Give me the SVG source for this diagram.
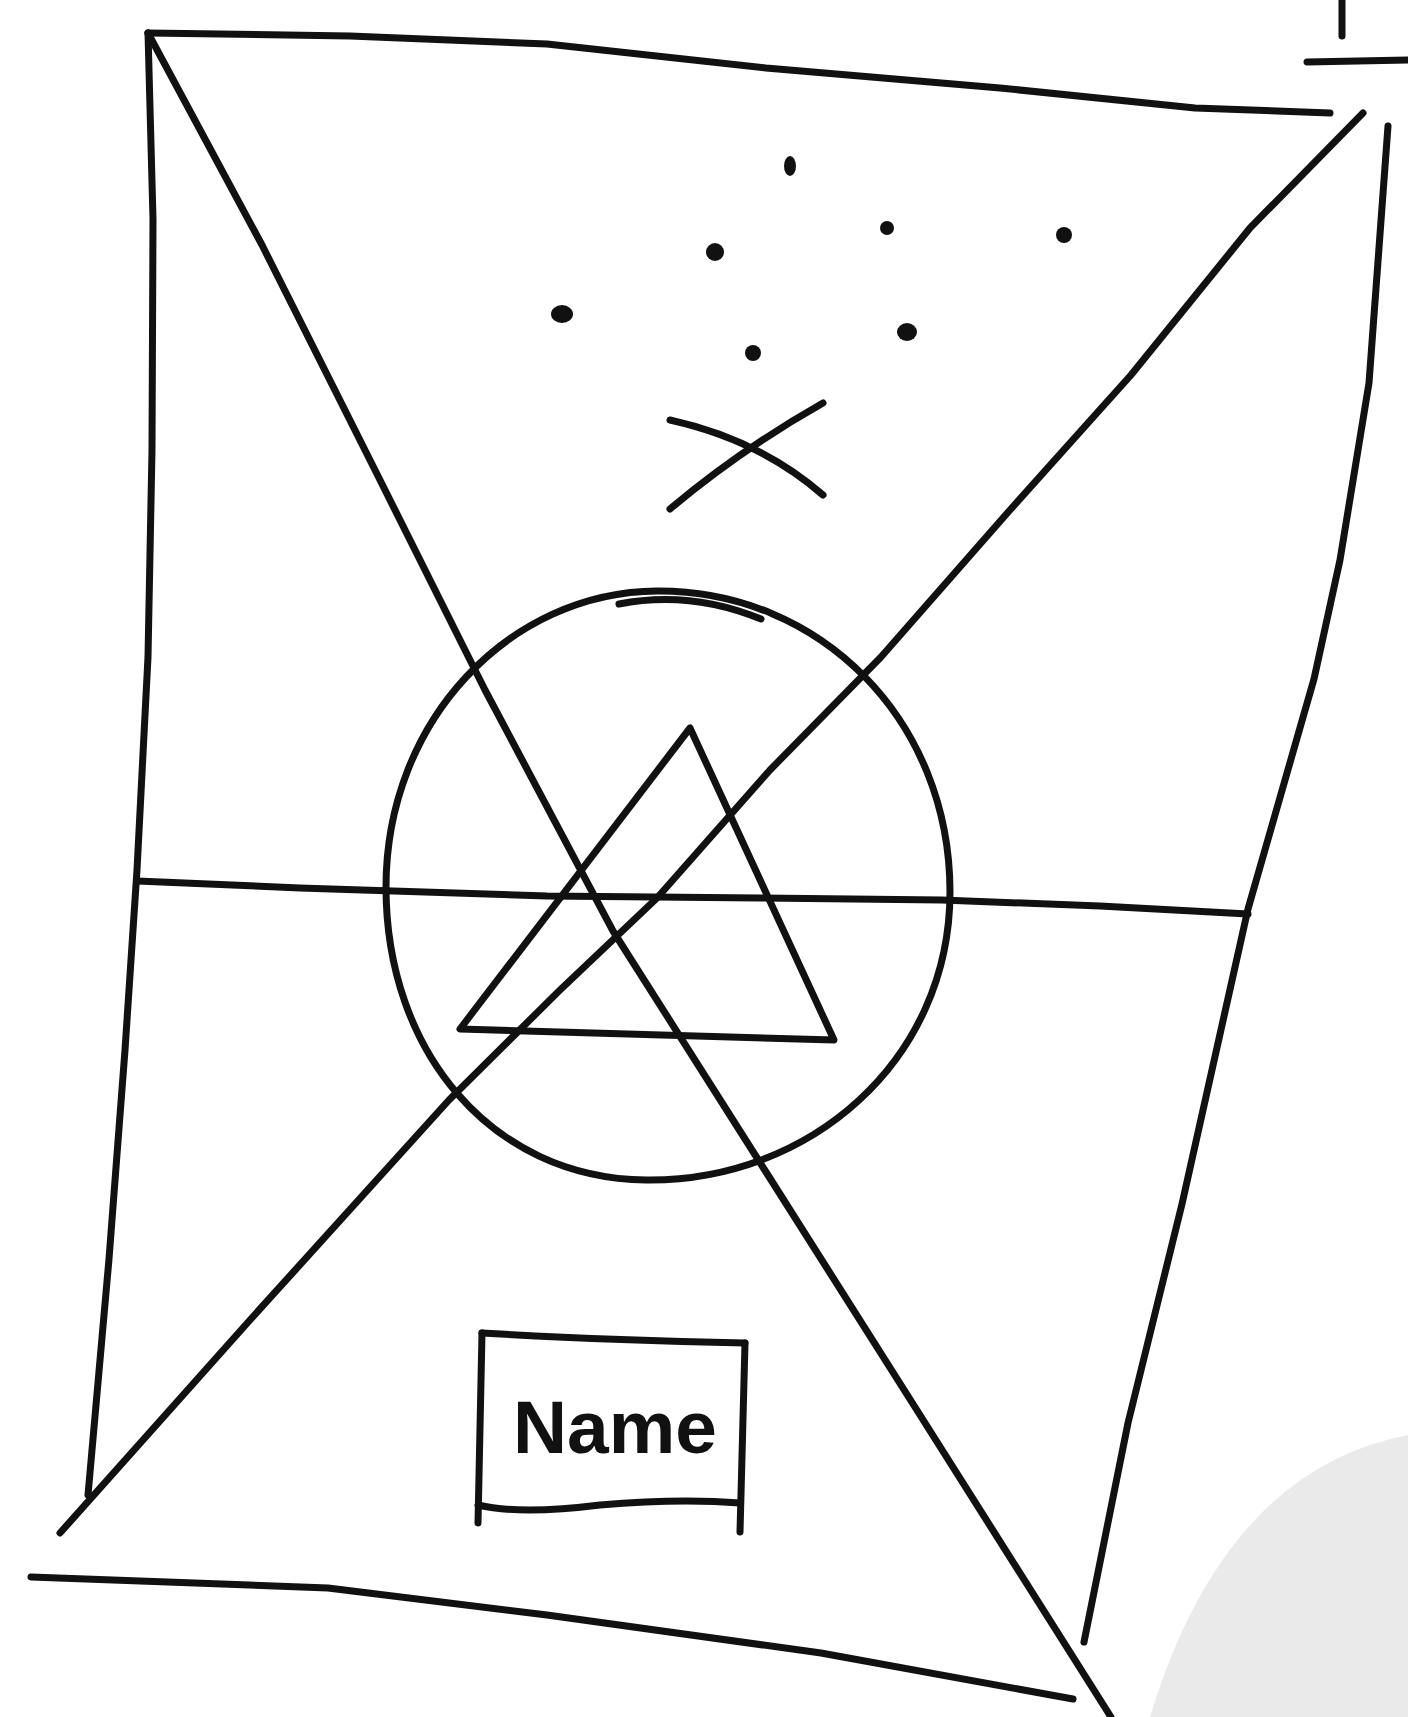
<svg xmlns="http://www.w3.org/2000/svg" width="1408" height="1717" viewBox="0 0 1408 1717">
<style>
.s{fill:none;stroke:#111;stroke-width:7;stroke-linecap:round;stroke-linejoin:round}
.d{fill:#111}
</style>
<rect width="1408" height="1717" fill="#fff"/>
<path d="M1408,1435 Q1225,1470 1150,1717 L1408,1717 Z" fill="#eaeaea"/>
<g id="frame">
<polyline class="s" points="148,33 350,36 547,44 766,68 1000,88 1195,108 1330,113"/>
<polyline class="s" points="148,33 153,219 152,450 148,657 137,870 125,1050 109,1259 88,1495"/>
<polyline class="s" points="1388,126 1369,383 1340,560 1314,679 1248,909 1182,1204 1128,1423 1084,1642"/>
<polyline class="s" points="31,1577 328,1588 547,1615 821,1653 1073,1699"/>
</g>
<g id="diagonals">
<polyline class="s" points="148,33 262,245 380,480 485,690 613,931 766,1172 920,1415 1111,1717"/>
<polyline class="s" points="1363,113 1250,228 1131,375 1010,510 881,657 770,770 657,898 560,990 449,1100 250,1320 60,1533"/>
<polyline class="s" points="137,881 300,888 547,896 760,898 942,900 1100,906 1248,914"/>
</g>
<g id="circle">
<path class="s" d="M386,887 C386,720 510,592 657,591 C820,590 950,720 950,892 C950,1060 810,1182 646,1180 C490,1178 386,1050 386,887 Z"/>
<path class="s" d="M619,604 Q690,590 761,619"/>
</g>
<g id="triangle">
<polygon class="s" points="690,728 460,1029 834,1040"/>
</g>
<g id="cross">
<path class="s" d="M670,420 Q760,440 823,495"/>
<path class="s" d="M670,509 Q740,450 823,403"/>
</g>
<g id="dots">
<ellipse class="d" cx="790" cy="166" rx="6" ry="10"/>
<circle class="d" cx="887" cy="228" r="7"/>
<circle class="d" cx="1064" cy="235" r="8"/>
<circle class="d" cx="715" cy="252" r="9"/>
<ellipse class="d" cx="562" cy="314" rx="11" ry="9"/>
<ellipse class="d" cx="907" cy="332" rx="10" ry="9"/>
<circle class="d" cx="753" cy="353" r="8"/>
</g>
<g id="name-box">
<path class="s" d="M482,1333 L478,1523"/>
<path class="s" d="M482,1333 Q600,1340 745,1343"/>
<path class="s" d="M745,1343 L740,1532"/>
<path class="s" d="M478,1505 Q520,1515 600,1505 Q680,1498 740,1503"/>
<text x="513" y="1453" font-family="Liberation Sans, sans-serif" font-size="74" font-weight="bold" textLength="204" lengthAdjust="spacingAndGlyphs" fill="#111">Name</text>
</g>
<g id="corner-mark">
<path class="s" d="M1307,62 L1408,60" stroke-width="10"/>
<path class="s" d="M1342,0 L1342,36"/>
</g>
</svg>
